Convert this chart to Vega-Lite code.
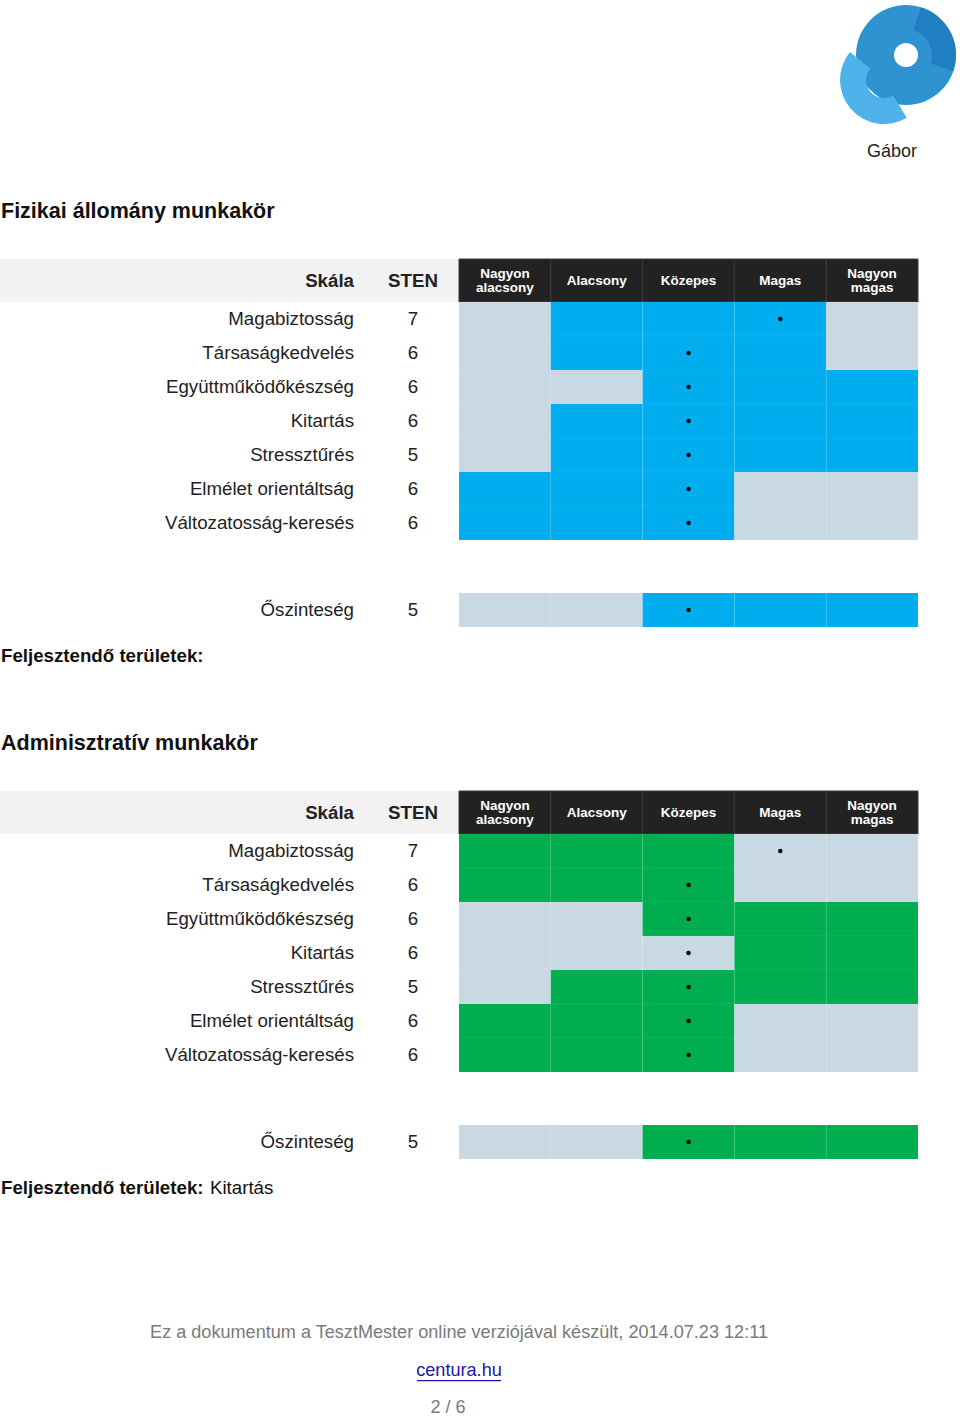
{
  "$schema": "https://vega.github.io/schema/vega-lite/v6.json",
  "width": 960,
  "height": 1416,
  "padding": 0,
  "autosize": {"type": "none"},
  "background": "#ffffff",
  "config": {"view": {"stroke": null}, "axis": {"disable": true}, "font": "Liberation Sans", "text": {"font": "Liberation Sans", "color": "#222222"}},
  "resolve": {"scale": {"x": "independent", "y": "independent"}},
  "datasets": {
    "szintek": [
      {"kat": "Nagyon alacsony", "sor": "fej"},
      {"kat": "Alacsony", "sor": "fej"},
      {"kat": "Közepes", "sor": "fej"},
      {"kat": "Magas", "sor": "fej"},
      {"kat": "Nagyon magas", "sor": "fej"}
    ],
    "skalak": [
      {"tabla": "F", "resz": "fo", "skala": "Magabiztosság", "sten": 7, "szint": "Magas", "Nagyon alacsony": 0, "Alacsony": 1, "Közepes": 1, "Magas": 1, "Nagyon magas": 0},
      {"tabla": "F", "resz": "fo", "skala": "Társaságkedvelés", "sten": 6, "szint": "Közepes", "Nagyon alacsony": 0, "Alacsony": 1, "Közepes": 1, "Magas": 1, "Nagyon magas": 0},
      {"tabla": "F", "resz": "fo", "skala": "Együttműködőkészség", "sten": 6, "szint": "Közepes", "Nagyon alacsony": 0, "Alacsony": 0, "Közepes": 1, "Magas": 1, "Nagyon magas": 1},
      {"tabla": "F", "resz": "fo", "skala": "Kitartás", "sten": 6, "szint": "Közepes", "Nagyon alacsony": 0, "Alacsony": 1, "Közepes": 1, "Magas": 1, "Nagyon magas": 1},
      {"tabla": "F", "resz": "fo", "skala": "Stressztűrés", "sten": 5, "szint": "Közepes", "Nagyon alacsony": 0, "Alacsony": 1, "Közepes": 1, "Magas": 1, "Nagyon magas": 1},
      {"tabla": "F", "resz": "fo", "skala": "Elmélet orientáltság", "sten": 6, "szint": "Közepes", "Nagyon alacsony": 1, "Alacsony": 1, "Közepes": 1, "Magas": 0, "Nagyon magas": 0},
      {"tabla": "F", "resz": "fo", "skala": "Változatosság-keresés", "sten": 6, "szint": "Közepes", "Nagyon alacsony": 1, "Alacsony": 1, "Közepes": 1, "Magas": 0, "Nagyon magas": 0},
      {"tabla": "F", "resz": "osz", "skala": "Őszinteség", "sten": 5, "szint": "Közepes", "Nagyon alacsony": 0, "Alacsony": 0, "Közepes": 1, "Magas": 1, "Nagyon magas": 1},
      {"tabla": "A", "resz": "fo", "skala": "Magabiztosság", "sten": 7, "szint": "Magas", "Nagyon alacsony": 1, "Alacsony": 1, "Közepes": 1, "Magas": 0, "Nagyon magas": 0},
      {"tabla": "A", "resz": "fo", "skala": "Társaságkedvelés", "sten": 6, "szint": "Közepes", "Nagyon alacsony": 1, "Alacsony": 1, "Közepes": 1, "Magas": 0, "Nagyon magas": 0},
      {"tabla": "A", "resz": "fo", "skala": "Együttműködőkészség", "sten": 6, "szint": "Közepes", "Nagyon alacsony": 0, "Alacsony": 0, "Közepes": 1, "Magas": 1, "Nagyon magas": 1},
      {"tabla": "A", "resz": "fo", "skala": "Kitartás", "sten": 6, "szint": "Közepes", "Nagyon alacsony": 0, "Alacsony": 0, "Közepes": 0, "Magas": 1, "Nagyon magas": 1},
      {"tabla": "A", "resz": "fo", "skala": "Stressztűrés", "sten": 5, "szint": "Közepes", "Nagyon alacsony": 0, "Alacsony": 1, "Közepes": 1, "Magas": 1, "Nagyon magas": 1},
      {"tabla": "A", "resz": "fo", "skala": "Elmélet orientáltság", "sten": 6, "szint": "Közepes", "Nagyon alacsony": 1, "Alacsony": 1, "Közepes": 1, "Magas": 0, "Nagyon magas": 0},
      {"tabla": "A", "resz": "fo", "skala": "Változatosság-keresés", "sten": 6, "szint": "Közepes", "Nagyon alacsony": 1, "Alacsony": 1, "Közepes": 1, "Magas": 0, "Nagyon magas": 0},
      {"tabla": "A", "resz": "osz", "skala": "Őszinteség", "sten": 5, "szint": "Közepes", "Nagyon alacsony": 0, "Alacsony": 0, "Közepes": 1, "Magas": 1, "Nagyon magas": 1}
    ]
  },
  "layer": [
    {"data": {"values": [{}]}, "mark": {"type": "arc", "x": 906, "y": 55, "innerRadius": 12, "outerRadius": 50, "theta": 0, "theta2": 6.2832, "fill": "#2f93d2"}, "encoding": {}},
    {"data": {"values": [{}]}, "mark": {"type": "arc", "x": 884, "y": 80, "innerRadius": 18, "outerRadius": 44, "theta": 2.6, "theta2": 5.4, "fill": "#4fb2e8"}, "encoding": {}},
    {"data": {"values": [{}]}, "mark": {"type": "arc", "x": 906, "y": 55, "innerRadius": 26, "outerRadius": 50, "theta": 0.3, "theta2": 1.9, "fill": "#1f7fc0"}, "encoding": {}},
    {"data": {"values": [{"t": "Gábor"}]}, "mark": {"type": "text", "x": 917, "y": 152, "align": "right", "baseline": "middle", "fontSize": 18}, "encoding": {"text": {"field": "t"}}},
    {"data": {"values": [{"t": "Fizikai állomány munkakör"}]}, "mark": {"type": "text", "x": 1, "y": 212, "align": "left", "baseline": "middle", "fontSize": 21.5, "fontWeight": "bold", "color": "#111111"}, "encoding": {"text": {"field": "t"}}},

    {"data": {"values": [{}]}, "mark": {"type": "rect", "x": 0, "x2": 459, "y": 259, "y2": 302, "fill": "#f2f2f2"}, "encoding": {}},
    {"data": {"name": "szintek"}, "mark": {"type": "rect", "fill": "#222222", "stroke": "#3a3a3a", "strokeWidth": 1},
     "encoding": {"x": {"field": "kat", "type": "nominal", "scale": {"type": "band", "domain": ["Nagyon alacsony", "Alacsony", "Közepes", "Magas", "Nagyon magas"], "range": [459, 918], "paddingInner": 0, "paddingOuter": 0}},
                  "y": {"field": "sor", "type": "nominal", "scale": {"type": "band", "domain": ["fej"], "range": [259, 302], "paddingInner": 0, "paddingOuter": 0}}}},
    {"data": {"name": "szintek"}, "transform": [{"filter": "indexof(datum.kat, ' ') < 0"}], "mark": {"type": "text", "color": "#ffffff", "fontWeight": "bold", "fontSize": 13.5, "align": "center", "baseline": "middle"},
     "encoding": {"x": {"field": "kat", "type": "nominal", "scale": {"type": "band", "domain": ["Nagyon alacsony", "Alacsony", "Közepes", "Magas", "Nagyon magas"], "range": [459, 918], "paddingInner": 0, "paddingOuter": 0}},
                  "y": {"field": "sor", "type": "nominal", "scale": {"type": "band", "domain": ["fej"], "range": [259, 302], "paddingInner": 0, "paddingOuter": 0}},
                  "text": {"field": "kat"}}},
    {"data": {"name": "szintek"}, "transform": [{"filter": "indexof(datum.kat, ' ') >= 0"}], "mark": {"type": "text", "color": "#ffffff", "fontWeight": "bold", "fontSize": 13.5, "lineBreak": " ", "lineHeight": 14, "align": "center", "baseline": "middle", "dy": -7},
     "encoding": {"x": {"field": "kat", "type": "nominal", "scale": {"type": "band", "domain": ["Nagyon alacsony", "Alacsony", "Közepes", "Magas", "Nagyon magas"], "range": [459, 918], "paddingInner": 0, "paddingOuter": 0}},
                  "y": {"field": "sor", "type": "nominal", "scale": {"type": "band", "domain": ["fej"], "range": [259, 302], "paddingInner": 0, "paddingOuter": 0}},
                  "text": {"field": "kat"}}},
    {"data": {"values": [{"fej": "Skála", "sor": "fej"}]}, "mark": {"type": "text", "align": "right", "baseline": "middle", "fontSize": 18.7, "fontWeight": "bold"},
     "encoding": {"x": {"field": "fej", "type": "nominal", "scale": {"type": "point", "domain": ["Skála", "STEN"], "range": [354, 413], "padding": 0}},
                  "y": {"field": "sor", "type": "nominal", "scale": {"type": "band", "domain": ["fej"], "range": [259, 302], "paddingInner": 0, "paddingOuter": 0}},
                  "text": {"field": "fej"}}},
    {"data": {"values": [{"fej": "STEN", "sor": "fej"}]}, "mark": {"type": "text", "align": "center", "baseline": "middle", "fontSize": 18.7, "fontWeight": "bold"},
     "encoding": {"x": {"field": "fej", "type": "nominal", "scale": {"type": "point", "domain": ["Skála", "STEN"], "range": [354, 413], "padding": 0}},
                  "y": {"field": "sor", "type": "nominal", "scale": {"type": "band", "domain": ["fej"], "range": [259, 302], "paddingInner": 0, "paddingOuter": 0}},
                  "text": {"field": "fej"}}},
    {"data": {"name": "skalak"}, "transform": [{"filter": "datum.tabla == 'F' && datum.resz == 'fo'"}, {"fold": ["Nagyon alacsony", "Alacsony", "Közepes", "Magas", "Nagyon magas"], "as": ["kat", "ertek"]}],
     "mark": {"type": "rect", "stroke": "#ffffff", "strokeOpacity": 0.05, "strokeWidth": 1},
     "encoding": {"x": {"field": "kat", "type": "nominal", "scale": {"type": "band", "domain": ["Nagyon alacsony", "Alacsony", "Közepes", "Magas", "Nagyon magas"], "range": [459, 918], "paddingInner": 0, "paddingOuter": 0}},
                  "y": {"field": "skala", "type": "nominal", "scale": {"type": "band", "domain": ["Magabiztosság", "Társaságkedvelés", "Együttműködőkészség", "Kitartás", "Stressztűrés", "Elmélet orientáltság", "Változatosság-keresés"], "range": [302, 540], "paddingInner": 0, "paddingOuter": 0}},
                  "color": {"condition": {"test": "datum.ertek == 1", "value": "#00aeef"}, "value": "#c9d9e3"}}},
    {"data": {"name": "skalak"}, "transform": [{"filter": "datum.tabla == 'F' && datum.resz == 'fo'"}],
     "mark": {"type": "circle", "size": 20, "color": "#000000", "opacity": 1},
     "encoding": {"x": {"field": "szint", "type": "nominal", "scale": {"type": "band", "domain": ["Nagyon alacsony", "Alacsony", "Közepes", "Magas", "Nagyon magas"], "range": [459, 918], "paddingInner": 0, "paddingOuter": 0}},
                  "y": {"field": "skala", "type": "nominal", "scale": {"type": "band", "domain": ["Magabiztosság", "Társaságkedvelés", "Együttműködőkészség", "Kitartás", "Stressztűrés", "Elmélet orientáltság", "Változatosság-keresés"], "range": [302, 540], "paddingInner": 0, "paddingOuter": 0}}}},
    {"data": {"name": "skalak"}, "transform": [{"filter": "datum.tabla == 'F' && datum.resz == 'fo'"}],
     "mark": {"type": "text", "align": "right", "baseline": "middle", "fontSize": 18.7},
     "encoding": {"x": {"datum": "Skála", "type": "nominal", "scale": {"type": "point", "domain": ["Skála", "STEN"], "range": [354, 413], "padding": 0}},
                  "y": {"field": "skala", "type": "nominal", "scale": {"type": "band", "domain": ["Magabiztosság", "Társaságkedvelés", "Együttműködőkészség", "Kitartás", "Stressztűrés", "Elmélet orientáltság", "Változatosság-keresés"], "range": [302, 540], "paddingInner": 0, "paddingOuter": 0}},
                  "text": {"field": "skala"}}},
    {"data": {"name": "skalak"}, "transform": [{"filter": "datum.tabla == 'F' && datum.resz == 'fo'"}],
     "mark": {"type": "text", "align": "center", "baseline": "middle", "fontSize": 18.7},
     "encoding": {"x": {"datum": "STEN", "type": "nominal", "scale": {"type": "point", "domain": ["Skála", "STEN"], "range": [354, 413], "padding": 0}},
                  "y": {"field": "skala", "type": "nominal", "scale": {"type": "band", "domain": ["Magabiztosság", "Társaságkedvelés", "Együttműködőkészség", "Kitartás", "Stressztűrés", "Elmélet orientáltság", "Változatosság-keresés"], "range": [302, 540], "paddingInner": 0, "paddingOuter": 0}},
                  "text": {"field": "sten", "type": "nominal"}}},
    {"data": {"name": "skalak"}, "transform": [{"filter": "datum.tabla == 'F' && datum.resz == 'osz'"}, {"fold": ["Nagyon alacsony", "Alacsony", "Közepes", "Magas", "Nagyon magas"], "as": ["kat", "ertek"]}],
     "mark": {"type": "rect", "stroke": "#ffffff", "strokeOpacity": 0.05, "strokeWidth": 1},
     "encoding": {"x": {"field": "kat", "type": "nominal", "scale": {"type": "band", "domain": ["Nagyon alacsony", "Alacsony", "Közepes", "Magas", "Nagyon magas"], "range": [459, 918], "paddingInner": 0, "paddingOuter": 0}},
                  "y": {"field": "skala", "type": "nominal", "scale": {"type": "band", "domain": ["Őszinteség"], "range": [593, 627], "paddingInner": 0, "paddingOuter": 0}},
                  "color": {"condition": {"test": "datum.ertek == 1", "value": "#00aeef"}, "value": "#c9d9e3"}}},
    {"data": {"name": "skalak"}, "transform": [{"filter": "datum.tabla == 'F' && datum.resz == 'osz'"}],
     "mark": {"type": "circle", "size": 20, "color": "#000000", "opacity": 1},
     "encoding": {"x": {"field": "szint", "type": "nominal", "scale": {"type": "band", "domain": ["Nagyon alacsony", "Alacsony", "Közepes", "Magas", "Nagyon magas"], "range": [459, 918], "paddingInner": 0, "paddingOuter": 0}},
                  "y": {"field": "skala", "type": "nominal", "scale": {"type": "band", "domain": ["Őszinteség"], "range": [593, 627], "paddingInner": 0, "paddingOuter": 0}}}},
    {"data": {"name": "skalak"}, "transform": [{"filter": "datum.tabla == 'F' && datum.resz == 'osz'"}],
     "mark": {"type": "text", "align": "right", "baseline": "middle", "fontSize": 18.7},
     "encoding": {"x": {"datum": "Skála", "type": "nominal", "scale": {"type": "point", "domain": ["Skála", "STEN"], "range": [354, 413], "padding": 0}},
                  "y": {"field": "skala", "type": "nominal", "scale": {"type": "band", "domain": ["Őszinteség"], "range": [593, 627], "paddingInner": 0, "paddingOuter": 0}},
                  "text": {"field": "skala"}}},
    {"data": {"name": "skalak"}, "transform": [{"filter": "datum.tabla == 'F' && datum.resz == 'osz'"}],
     "mark": {"type": "text", "align": "center", "baseline": "middle", "fontSize": 18.7},
     "encoding": {"x": {"datum": "STEN", "type": "nominal", "scale": {"type": "point", "domain": ["Skála", "STEN"], "range": [354, 413], "padding": 0}},
                  "y": {"field": "skala", "type": "nominal", "scale": {"type": "band", "domain": ["Őszinteség"], "range": [593, 627], "paddingInner": 0, "paddingOuter": 0}},
                  "text": {"field": "sten", "type": "nominal"}}},
    {"data": {"values": [{"t": "Feljesztendő területek:"}]}, "mark": {"type": "text", "x": 1, "y": 656, "align": "left", "baseline": "middle", "fontSize": 18.7, "fontWeight": "bold", "color": "#111111"}, "encoding": {"text": {"field": "t"}}},

    {"data": {"values": [{"t": "Adminisztratív munkakör"}]}, "mark": {"type": "text", "x": 1, "y": 744, "align": "left", "baseline": "middle", "fontSize": 21.5, "fontWeight": "bold", "color": "#111111"}, "encoding": {"text": {"field": "t"}}},
    {"data": {"values": [{}]}, "mark": {"type": "rect", "x": 0, "x2": 459, "y": 791, "y2": 834, "fill": "#f2f2f2"}, "encoding": {}},
    {"data": {"name": "szintek"}, "mark": {"type": "rect", "fill": "#222222", "stroke": "#3a3a3a", "strokeWidth": 1},
     "encoding": {"x": {"field": "kat", "type": "nominal", "scale": {"type": "band", "domain": ["Nagyon alacsony", "Alacsony", "Közepes", "Magas", "Nagyon magas"], "range": [459, 918], "paddingInner": 0, "paddingOuter": 0}},
                  "y": {"field": "sor", "type": "nominal", "scale": {"type": "band", "domain": ["fej"], "range": [791, 834], "paddingInner": 0, "paddingOuter": 0}}}},
    {"data": {"name": "szintek"}, "transform": [{"filter": "indexof(datum.kat, ' ') < 0"}], "mark": {"type": "text", "color": "#ffffff", "fontWeight": "bold", "fontSize": 13.5, "align": "center", "baseline": "middle"},
     "encoding": {"x": {"field": "kat", "type": "nominal", "scale": {"type": "band", "domain": ["Nagyon alacsony", "Alacsony", "Közepes", "Magas", "Nagyon magas"], "range": [459, 918], "paddingInner": 0, "paddingOuter": 0}},
                  "y": {"field": "sor", "type": "nominal", "scale": {"type": "band", "domain": ["fej"], "range": [791, 834], "paddingInner": 0, "paddingOuter": 0}},
                  "text": {"field": "kat"}}},
    {"data": {"name": "szintek"}, "transform": [{"filter": "indexof(datum.kat, ' ') >= 0"}], "mark": {"type": "text", "color": "#ffffff", "fontWeight": "bold", "fontSize": 13.5, "lineBreak": " ", "lineHeight": 14, "align": "center", "baseline": "middle", "dy": -7},
     "encoding": {"x": {"field": "kat", "type": "nominal", "scale": {"type": "band", "domain": ["Nagyon alacsony", "Alacsony", "Közepes", "Magas", "Nagyon magas"], "range": [459, 918], "paddingInner": 0, "paddingOuter": 0}},
                  "y": {"field": "sor", "type": "nominal", "scale": {"type": "band", "domain": ["fej"], "range": [791, 834], "paddingInner": 0, "paddingOuter": 0}},
                  "text": {"field": "kat"}}},
    {"data": {"values": [{"fej": "Skála", "sor": "fej"}]}, "mark": {"type": "text", "align": "right", "baseline": "middle", "fontSize": 18.7, "fontWeight": "bold"},
     "encoding": {"x": {"field": "fej", "type": "nominal", "scale": {"type": "point", "domain": ["Skála", "STEN"], "range": [354, 413], "padding": 0}},
                  "y": {"field": "sor", "type": "nominal", "scale": {"type": "band", "domain": ["fej"], "range": [791, 834], "paddingInner": 0, "paddingOuter": 0}},
                  "text": {"field": "fej"}}},
    {"data": {"values": [{"fej": "STEN", "sor": "fej"}]}, "mark": {"type": "text", "align": "center", "baseline": "middle", "fontSize": 18.7, "fontWeight": "bold"},
     "encoding": {"x": {"field": "fej", "type": "nominal", "scale": {"type": "point", "domain": ["Skála", "STEN"], "range": [354, 413], "padding": 0}},
                  "y": {"field": "sor", "type": "nominal", "scale": {"type": "band", "domain": ["fej"], "range": [791, 834], "paddingInner": 0, "paddingOuter": 0}},
                  "text": {"field": "fej"}}},
    {"data": {"name": "skalak"}, "transform": [{"filter": "datum.tabla == 'A' && datum.resz == 'fo'"}, {"fold": ["Nagyon alacsony", "Alacsony", "Közepes", "Magas", "Nagyon magas"], "as": ["kat", "ertek"]}],
     "mark": {"type": "rect", "stroke": "#ffffff", "strokeOpacity": 0.05, "strokeWidth": 1},
     "encoding": {"x": {"field": "kat", "type": "nominal", "scale": {"type": "band", "domain": ["Nagyon alacsony", "Alacsony", "Közepes", "Magas", "Nagyon magas"], "range": [459, 918], "paddingInner": 0, "paddingOuter": 0}},
                  "y": {"field": "skala", "type": "nominal", "scale": {"type": "band", "domain": ["Magabiztosság", "Társaságkedvelés", "Együttműködőkészség", "Kitartás", "Stressztűrés", "Elmélet orientáltság", "Változatosság-keresés"], "range": [834, 1072], "paddingInner": 0, "paddingOuter": 0}},
                  "color": {"condition": {"test": "datum.ertek == 1", "value": "#00ae4f"}, "value": "#c9d9e3"}}},
    {"data": {"name": "skalak"}, "transform": [{"filter": "datum.tabla == 'A' && datum.resz == 'fo'"}],
     "mark": {"type": "circle", "size": 20, "color": "#000000", "opacity": 1},
     "encoding": {"x": {"field": "szint", "type": "nominal", "scale": {"type": "band", "domain": ["Nagyon alacsony", "Alacsony", "Közepes", "Magas", "Nagyon magas"], "range": [459, 918], "paddingInner": 0, "paddingOuter": 0}},
                  "y": {"field": "skala", "type": "nominal", "scale": {"type": "band", "domain": ["Magabiztosság", "Társaságkedvelés", "Együttműködőkészség", "Kitartás", "Stressztűrés", "Elmélet orientáltság", "Változatosság-keresés"], "range": [834, 1072], "paddingInner": 0, "paddingOuter": 0}}}},
    {"data": {"name": "skalak"}, "transform": [{"filter": "datum.tabla == 'A' && datum.resz == 'fo'"}],
     "mark": {"type": "text", "align": "right", "baseline": "middle", "fontSize": 18.7},
     "encoding": {"x": {"datum": "Skála", "type": "nominal", "scale": {"type": "point", "domain": ["Skála", "STEN"], "range": [354, 413], "padding": 0}},
                  "y": {"field": "skala", "type": "nominal", "scale": {"type": "band", "domain": ["Magabiztosság", "Társaságkedvelés", "Együttműködőkészség", "Kitartás", "Stressztűrés", "Elmélet orientáltság", "Változatosság-keresés"], "range": [834, 1072], "paddingInner": 0, "paddingOuter": 0}},
                  "text": {"field": "skala"}}},
    {"data": {"name": "skalak"}, "transform": [{"filter": "datum.tabla == 'A' && datum.resz == 'fo'"}],
     "mark": {"type": "text", "align": "center", "baseline": "middle", "fontSize": 18.7},
     "encoding": {"x": {"datum": "STEN", "type": "nominal", "scale": {"type": "point", "domain": ["Skála", "STEN"], "range": [354, 413], "padding": 0}},
                  "y": {"field": "skala", "type": "nominal", "scale": {"type": "band", "domain": ["Magabiztosság", "Társaságkedvelés", "Együttműködőkészség", "Kitartás", "Stressztűrés", "Elmélet orientáltság", "Változatosság-keresés"], "range": [834, 1072], "paddingInner": 0, "paddingOuter": 0}},
                  "text": {"field": "sten", "type": "nominal"}}},
    {"data": {"name": "skalak"}, "transform": [{"filter": "datum.tabla == 'A' && datum.resz == 'osz'"}, {"fold": ["Nagyon alacsony", "Alacsony", "Közepes", "Magas", "Nagyon magas"], "as": ["kat", "ertek"]}],
     "mark": {"type": "rect", "stroke": "#ffffff", "strokeOpacity": 0.05, "strokeWidth": 1},
     "encoding": {"x": {"field": "kat", "type": "nominal", "scale": {"type": "band", "domain": ["Nagyon alacsony", "Alacsony", "Közepes", "Magas", "Nagyon magas"], "range": [459, 918], "paddingInner": 0, "paddingOuter": 0}},
                  "y": {"field": "skala", "type": "nominal", "scale": {"type": "band", "domain": ["Őszinteség"], "range": [1125, 1159], "paddingInner": 0, "paddingOuter": 0}},
                  "color": {"condition": {"test": "datum.ertek == 1", "value": "#00ae4f"}, "value": "#c9d9e3"}}},
    {"data": {"name": "skalak"}, "transform": [{"filter": "datum.tabla == 'A' && datum.resz == 'osz'"}],
     "mark": {"type": "circle", "size": 20, "color": "#000000", "opacity": 1},
     "encoding": {"x": {"field": "szint", "type": "nominal", "scale": {"type": "band", "domain": ["Nagyon alacsony", "Alacsony", "Közepes", "Magas", "Nagyon magas"], "range": [459, 918], "paddingInner": 0, "paddingOuter": 0}},
                  "y": {"field": "skala", "type": "nominal", "scale": {"type": "band", "domain": ["Őszinteség"], "range": [1125, 1159], "paddingInner": 0, "paddingOuter": 0}}}},
    {"data": {"name": "skalak"}, "transform": [{"filter": "datum.tabla == 'A' && datum.resz == 'osz'"}],
     "mark": {"type": "text", "align": "right", "baseline": "middle", "fontSize": 18.7},
     "encoding": {"x": {"datum": "Skála", "type": "nominal", "scale": {"type": "point", "domain": ["Skála", "STEN"], "range": [354, 413], "padding": 0}},
                  "y": {"field": "skala", "type": "nominal", "scale": {"type": "band", "domain": ["Őszinteség"], "range": [1125, 1159], "paddingInner": 0, "paddingOuter": 0}},
                  "text": {"field": "skala"}}},
    {"data": {"name": "skalak"}, "transform": [{"filter": "datum.tabla == 'A' && datum.resz == 'osz'"}],
     "mark": {"type": "text", "align": "center", "baseline": "middle", "fontSize": 18.7},
     "encoding": {"x": {"datum": "STEN", "type": "nominal", "scale": {"type": "point", "domain": ["Skála", "STEN"], "range": [354, 413], "padding": 0}},
                  "y": {"field": "skala", "type": "nominal", "scale": {"type": "band", "domain": ["Őszinteség"], "range": [1125, 1159], "paddingInner": 0, "paddingOuter": 0}},
                  "text": {"field": "sten", "type": "nominal"}}},
    {"data": {"values": [{"t": "Feljesztendő területek:"}]}, "mark": {"type": "text", "x": 1, "y": 1188, "align": "left", "baseline": "middle", "fontSize": 18.7, "fontWeight": "bold", "color": "#111111"}, "encoding": {"text": {"field": "t"}}},
    {"data": {"values": [{"t": "Kitartás"}]}, "mark": {"type": "text", "x": 210, "y": 1188, "align": "left", "baseline": "middle", "fontSize": 18.7, "color": "#111111"}, "encoding": {"text": {"field": "t"}}},

    {"data": {"values": [{"t": "Ez a dokumentum a TesztMester online verziójával készült, 2014.07.23 12:11"}]}, "mark": {"type": "text", "x": 459, "y": 1333, "align": "center", "baseline": "middle", "fontSize": 18.1, "color": "#7a7a7a"}, "encoding": {"text": {"field": "t"}}},
    {"data": {"values": [{"t": "centura.hu"}]}, "mark": {"type": "text", "x": 459, "y": 1371, "align": "center", "baseline": "middle", "fontSize": 18.1, "color": "#1a1aa6"}, "encoding": {"text": {"field": "t"}}},
    {"data": {"values": [{}]}, "mark": {"type": "rect", "x": 417, "x2": 501, "y": 1380, "y2": 1381.2, "fill": "#1a1aa6"}, "encoding": {}},
    {"data": {"values": [{"t": "2 / 6"}]}, "mark": {"type": "text", "x": 448, "y": 1408, "align": "center", "baseline": "middle", "fontSize": 18.1, "color": "#7a7a7a"}, "encoding": {"text": {"field": "t"}}}
  ]
}
